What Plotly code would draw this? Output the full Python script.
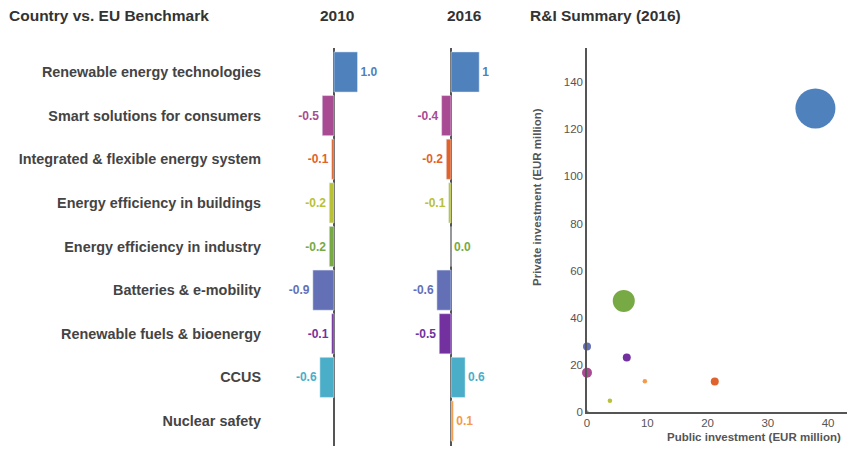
import plotly.graph_objects as go

# page body has an 8px margin, so the figure is sized to the visible area
OFF = 8
W, H = 855 - OFF, 449 - OFF

categories = [
    "Renewable energy technologies",
    "Smart solutions for consumers",
    "Integrated & flexible energy system",
    "Energy efficiency in buildings",
    "Energy efficiency in industry",
    "Batteries & e-mobility",
    "Renewable fuels & bioenergy",
    "CCUS",
    "Nuclear safety",
]
colors = ["#4f81bd", "#a94b93", "#e0632d", "#b9c136", "#77aa45",
          "#6470b6", "#7331a0", "#4aaec8", "#f59a47"]

vals_2010 = [1.0, -0.5, -0.1, -0.2, -0.2, -0.9, -0.1, -0.6, None]
labels_2010 = ["1.0", "-0.5", "-0.1", "-0.2", "-0.2", "-0.9", "-0.1", "-0.6", ""]
vals_2016 = [1.2, -0.4, -0.2, -0.1, 0.0, -0.6, -0.5, 0.6, 0.1]
labels_2016 = ["1", "-0.4", "-0.2", "-0.1", "0.0", "-0.6", "-0.5", "0.6", "0.1"]

public_inv = [37.9, 0.0, 21.2, 3.8, 6.1, 0.0, 6.6, 0.0, 9.6]
private_inv = [128.9, 16.6, 12.8, 4.7, 47.1, 27.7, 23.0, 0.0, 12.9]
bubble_size = [40, 10, 8, 4.5, 22, 8, 8, 3, 4.5]


def px_x(p):
    return (p - OFF) / W


def px_y(p):
    return (H - (p - OFF)) / H


fig = go.Figure()

bar_text_font = lambda: dict(color=colors, size=12, family="Liberation Sans", weight="bold")

fig.add_trace(go.Bar(
    y=categories, x=vals_2010, orientation="h", marker_color=colors,
    text=labels_2010, textposition="outside", cliponaxis=False,
    textfont=bar_text_font(),
    xaxis="x", yaxis="y", width=0.92, hoverinfo="skip",
))
fig.add_trace(go.Bar(
    y=categories, x=vals_2016, orientation="h", marker_color=colors,
    text=labels_2016, textposition="outside", cliponaxis=False,
    textfont=bar_text_font(),
    xaxis="x2", yaxis="y2", width=0.92, hoverinfo="skip",
))
fig.add_trace(go.Scatter(
    x=public_inv, y=private_inv, mode="markers",
    marker=dict(color=colors, size=bubble_size, line=dict(width=0), opacity=1),
    xaxis="x3", yaxis="y3", cliponaxis=False, hoverinfo="skip",
))

scale = 23.5
ax0_2010, ax0_2016 = 334, 451
d2010 = (296, 378)
d2016 = (420, 510)

ydom = [px_y(446), px_y(48)]
yrange = [8.573, -0.550]

common_bar_x = dict(showgrid=False, showticklabels=False, ticks="",
                    zeroline=True, zerolinecolor="#555555", zerolinewidth=1.5,
                    showline=False, fixedrange=True, automargin=False)

fig.update_layout(
    width=W, height=H,
    margin=dict(l=0, r=0, t=0, b=0, pad=0, autoexpand=False),
    paper_bgcolor="white", plot_bgcolor="white",
    showlegend=False,
    font=dict(family="Liberation Sans", color="#444444"),
    xaxis=dict(domain=[px_x(d2010[0]), px_x(d2010[1])],
               range=[(d2010[0] - ax0_2010) / scale, (d2010[1] - ax0_2010) / scale],
               **common_bar_x),
    xaxis2=dict(domain=[px_x(d2016[0]), px_x(d2016[1])],
                range=[(d2016[0] - ax0_2016) / scale, (d2016[1] - ax0_2016) / scale],
                **common_bar_x),
    yaxis=dict(domain=ydom, range=yrange, anchor="x", showgrid=False,
               zeroline=False, ticks="", showline=False, automargin=False,
               tickfont=dict(size=14.4, color="#444444", family="Liberation Sans", weight="bold"),
               ticklabelstandoff=34),
    yaxis2=dict(domain=ydom, range=yrange, anchor="x2", showgrid=False,
                zeroline=False, ticks="", showline=False, showticklabels=False,
                automargin=False),
    xaxis3=dict(domain=[px_x(587), px_x(854)], range=[0, 44.3], anchor="y3",
                showgrid=False, zeroline=False, showline=True, linecolor="#555555",
                linewidth=1.5, ticks="", dtick=10, automargin=False,
                tickfont=dict(size=11.5, color="#555555")),
    yaxis3=dict(domain=[px_y(411.7), px_y(48)], range=[0, 154.6], anchor="x3",
                showgrid=False, zeroline=False, showline=True, linecolor="#555555",
                linewidth=1.5, ticks="", dtick=20, automargin=False,
                tickfont=dict(size=11.5, color="#555555")),
    bargap=0.08,
)

header_font = dict(size=15.5, color="#333333", family="Liberation Sans", weight="bold")
headers = [("Country vs. EU Benchmark", 8, "left"), ("2010", 337, "center"),
           ("2016", 465, "center"), ("R&I Summary (2016)", 529, "left")]
for txt, xp, anc in headers:
    fig.add_annotation(text=txt, x=px_x(xp), y=px_y(15), xref="paper", yref="paper",
                       xanchor=anc, yanchor="middle", showarrow=False, font=header_font,
                       borderpad=0)

title_font = dict(size=11.5, color="#555555", family="Liberation Sans", weight="bold")
fig.add_annotation(text="Public investment (EUR million)", x=px_x(842), y=px_y(437),
                   xref="paper", yref="paper", xanchor="right", yanchor="middle",
                   showarrow=False, font=title_font, borderpad=0)
fig.add_annotation(text="Private investment (EUR million)", x=px_x(537), y=px_y(197),
                   xref="paper", yref="paper", xanchor="center", yanchor="middle",
                   textangle=-90, showarrow=False, font=title_font, borderpad=0)

fig.write_html("out.html")
